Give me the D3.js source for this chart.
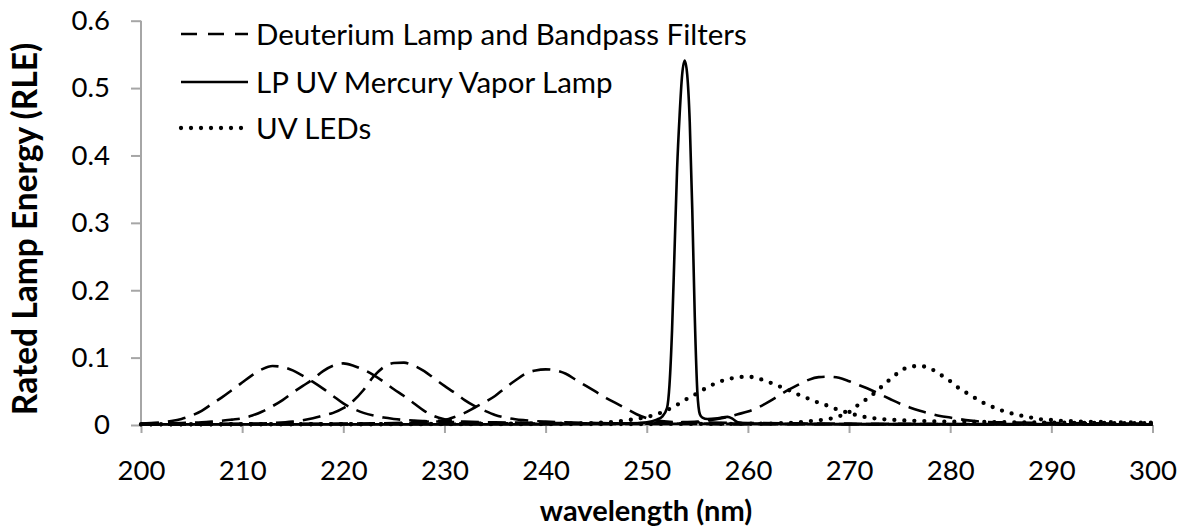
<!DOCTYPE html>
<html><head><meta charset="utf-8">
<script src="https://cdn.jsdelivr.net/npm/d3@7"></script>
<style>body{margin:0;background:#fff;} svg{display:block;font-family:Lato,"Open Sans",sans-serif;}</style>
</head><body>
<svg id="c" width="1179" height="529"></svg>
<script>
// ---- data ----
const xTicks = [200,210,220,230,240,250,260,270,280,290,300];
const yTicks = [0,0.1,0.2,0.3,0.4,0.5,0.6];
const yTickLabels = ["0","0.1","0.2","0.3","0.4","0.5","0.6"];
const legendLabels = ["Deuterium Lamp and Bandpass Filters","LP UV Mercury Vapor Lamp","UV LEDs"];

// Deuterium lamp + bandpass filters (dashed)
const d213Wl  = [200,201,202,203,204,205,206,207,208,209,210,211,212,213,214,215,216,217,218,219,220,221,222,223,224,225,226,227,228,229,230,232,235,240,250,300];
const d213Val = [0.002,0.003,0.004,0.006,0.009,0.014,0.021,0.031,0.041,0.052,0.063,0.074,0.083,0.0875,0.086,0.081,0.073,0.064,0.054,0.043,0.032,0.024,0.018,0.014,0.011,0.009,0.0075,0.0065,0.0058,0.0052,0.0048,0.004,0.003,0.002,0.0015,0.001];
const d220Wl  = [200,204,206,207,208,209,210,211,212,213,214,215,216,217,218,219,220,221,222,223,224,225,226,227,228,229,230,231,232,235,240,250,300];
const d220Val = [0.002,0.003,0.004,0.005,0.0062,0.008,0.010,0.014,0.020,0.028,0.037,0.048,0.058,0.068,0.080,0.088,0.0915,0.088,0.082,0.074,0.064,0.053,0.043,0.032,0.021,0.013,0.0085,0.006,0.005,0.004,0.003,0.002,0.001];
const d225Wl  = [200,210,213,215,216,217,218,219,220,221,222,223,224,225,226,227,228,229,230,231,232,233,234,235,236,237,238,239,240,242,245,250,300];
const d225Val = [0.001,0.002,0.003,0.005,0.007,0.010,0.014,0.018,0.025,0.036,0.052,0.072,0.086,0.092,0.0925,0.088,0.080,0.069,0.058,0.048,0.037,0.028,0.021,0.015,0.011,0.0085,0.007,0.0058,0.005,0.004,0.003,0.002,0.001];
const d240Wl  = [200,220,225,228,229,230,231,232,233,234,235,236,237,238,239,240,241,242,243,244,245,246,247,248,249,250,251,252,254,260,270,300];
const d240Val = [0.001,0.002,0.003,0.0045,0.006,0.0075,0.012,0.018,0.026,0.034,0.043,0.055,0.066,0.076,0.081,0.0826,0.081,0.076,0.067,0.058,0.049,0.040,0.032,0.024,0.016,0.010,0.0065,0.005,0.004,0.003,0.002,0.001];
const d268Wl  = [200,240,250,253,255,256,257,258,259,260,261,262,263,264,265,266,267,268,269,270,271,272,273,274,275,276,277,278,279,280,281,282,283,285,290,300];
const d268Val = [0.001,0.002,0.003,0.004,0.005,0.007,0.009,0.012,0.016,0.020,0.026,0.034,0.043,0.052,0.060,0.067,0.071,0.0717,0.070,0.065,0.059,0.053,0.046,0.039,0.032,0.026,0.021,0.017,0.0135,0.011,0.0085,0.0065,0.005,0.004,0.003,0.002];

// LP UV mercury vapor lamp (solid)
const hgWl  = [200,240,248,250,251,251.5,252,252.25,252.5,252.75,253,253.25,253.5,253.75,254,254.25,254.5,254.75,255,255.25,255.5,256,257,258,258.5,259,260,270,300];
const hgVal = [0.001,0.001,0.002,0.004,0.008,0.012,0.025,0.06,0.14,0.26,0.38,0.46,0.52,0.541,0.52,0.45,0.32,0.16,0.05,0.016,0.011,0.009,0.010,0.012,0.009,0.004,0.002,0.001,0.001];

// UV LEDs (dotted)
const led260Wl  = [200,240,245,246,247,248,249,250,251,252,253,254,255,256,257,258,259,260,261,262,263,264,265,266,267,268,269,270,271,272,273,274,275,276,277,278,280,285,290,295,300];
const led260Val = [0.001,0.002,0.003,0.004,0.005,0.007,0.009,0.012,0.016,0.022,0.030,0.039,0.047,0.056,0.063,0.068,0.0707,0.0717,0.069,0.064,0.058,0.052,0.045,0.039,0.033,0.028,0.022,0.018,0.0135,0.011,0.009,0.008,0.0072,0.0065,0.006,0.0056,0.005,0.0042,0.0035,0.003,0.0025];
const led277Wl  = [200,250,262,263,264,265,266,267,268,269,270,271,272,273,274,275,276,277,278,279,280,281,282,283,284,285,286,287,288,289,290,291,292,293,294,295,296,297,298,299,300];
const led277Val = [0.001,0.0015,0.002,0.0025,0.003,0.004,0.0055,0.007,0.009,0.013,0.019,0.031,0.041,0.054,0.067,0.079,0.0865,0.0875,0.084,0.075,0.065,0.053,0.0445,0.035,0.028,0.022,0.0175,0.014,0.011,0.0084,0.0074,0.006,0.0055,0.005,0.0047,0.0044,0.0042,0.004,0.0038,0.0036,0.0035];

// ---- drawing ----
const svg = d3.select("#c");
const x = d3.scaleLinear().domain([200,300]).range([141,1152.5]);
const y = d3.scaleLinear().domain([0,0.6]).range([425,20.7]);
const axisCol = "#a6a6a6";

// y axis
const yAxis = d3.axisLeft(y).tickValues(yTicks).tickSize(10).tickPadding(21)
  .tickFormat((d,i)=>yTickLabels[i]);
const gy = svg.append("g").attr("transform","translate(141,0)").call(yAxis);
gy.select(".domain").attr("stroke",axisCol).attr("stroke-width",2).attr("d","M0,20.7V425");
gy.selectAll(".tick line").attr("stroke",axisCol).attr("stroke-width",2);
gy.selectAll(".tick text").attr("font-size",27.5).attr("fill","#000").attr("font-family","Lato");

// x axis
const xAxis = d3.axisBottom(x).tickValues(xTicks).tickSize(8).tickPadding(27).tickFormat(d3.format("d"));
const gx = svg.append("g").attr("transform","translate(0,425)").call(xAxis);
gx.select(".domain").attr("stroke",axisCol).attr("stroke-width",2).attr("d","M141,0H1152.5");
gx.selectAll(".tick line").attr("stroke",axisCol).attr("stroke-width",2);
gx.selectAll(".tick text").attr("font-size",27.5).attr("fill","#000").attr("font-family","Lato");

// axis titles
svg.append("text").attr("x",646).attr("y",521).attr("text-anchor","middle")
  .attr("font-size",29).attr("font-weight","bold").text("wavelength (nm)");
svg.append("text").attr("transform","translate(37,229) rotate(-90)").attr("text-anchor","middle")
  .attr("font-size",33.5).attr("font-weight","bold").text("Rated Lamp Energy (RLE)");

const line = d3.line().x(d=>x(d[0])).y(d=>y(d[1])).curve(d3.curveMonotoneX);
const styles = {
  dash:{dash:"18 9", w:2.6, cap:"butt"},
  solid:{dash:null, w:2.6, cap:"butt"},
  dot:{dash:"0 10", w:4.3, cap:"round"}
};
const series = [
  [d213Wl,d213Val,"dash"],[d220Wl,d220Val,"dash"],[d225Wl,d225Val,"dash"],
  [d240Wl,d240Val,"dash"],[d268Wl,d268Val,"dash"],
  [led260Wl,led260Val,"dot"],[led277Wl,led277Val,"dot"],
  [hgWl,hgVal,"solid"]
];
series.forEach(([wl,val,st])=>{
  const s = styles[st];
  svg.append("path").datum(d3.zip(wl,val)).attr("d",line)
    .attr("fill","none").attr("stroke","#000").attr("stroke-width",s.w)
    .attr("stroke-linecap",s.cap).attr("stroke-linejoin","round")
    .attr("stroke-dasharray",s.dash);
});

// legend
const legStyles = ["dash","solid","dot"];
const legY = [34,82,128];
legendLabels.forEach((lab,i)=>{
  const s = styles[legStyles[i]];
  svg.append("line").attr("x1",181).attr("x2",248).attr("y1",legY[i]).attr("y2",legY[i])
    .attr("stroke","#000").attr("stroke-width",s.w).attr("stroke-linecap",s.cap)
    .attr("stroke-dasharray",legStyles[i]==="dash"?"16 11":s.dash);
  svg.append("text").attr("x",256).attr("y",legY[i]+11).attr("font-size",29.5).text(lab);
});
</script>
</body></html>
